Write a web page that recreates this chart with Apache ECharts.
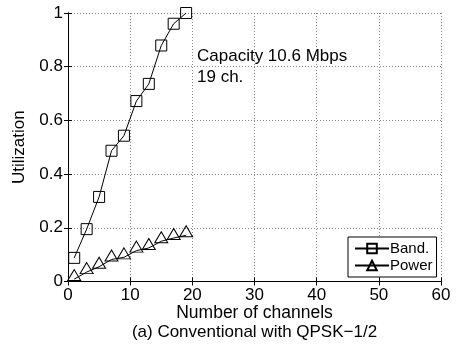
<!DOCTYPE html>
<html><head><meta charset="utf-8">
<script src="https://cdn.jsdelivr.net/npm/echarts@6/dist/echarts.min.js"></script>
<style>html,body{margin:0;padding:0;background:#fff}#c{width:463px;height:351px}</style>
</head><body><div id="c"></div>
<script>
const channels = [1, 3, 5, 7, 9, 11, 13, 15, 17, 19];
const bandUtil = [0.088, 0.195, 0.315, 0.487, 0.543, 0.672, 0.736, 0.879, 0.96, 1.0];
const powerUtil = [0.009, 0.035, 0.055, 0.082, 0.090, 0.115, 0.125, 0.150, 0.162, 0.172];
const xTicks = [0, 10, 20, 30, 40, 50, 60];
const yTicks = [0, 0.2, 0.4, 0.6, 0.8, 1];
const seriesNames = ['Band.', 'Power'];
const annotation = ['Capacity 10.6 Mbps', '19 ch.'];
const xLabel = 'Number of channels';
const yLabel = 'Utilization';
const caption = '(a) Conventional with QPSK\u22121/2';

const FONT = 'Liberation Sans';
const chart = echarts.init(document.getElementById('c'), null, {renderer: 'canvas'});
const gridLine = {show: true, lineStyle: {color: '#8a8a8a', type: [1, 2], width: 1}};
const baseAxis = {
  axisLine: {show: true, lineStyle: {color: '#000', width: 1}},
  axisTick: {show: true, inside: true, length: 4, lineStyle: {color: '#000'}},
  axisLabel: {color: '#000', fontFamily: FONT, fontSize: 17},
  splitLine: {show: false}
};
chart.setOption({
  animation: false,
  backgroundColor: '#fff',
  grid: {left: 68, right: 22, top: 13, bottom: 69.5, containLabel: false},
  legend: {
    orient: 'vertical', left: 348, top: 237, itemWidth: 34, itemHeight: 12, itemGap: 2,
    padding: [4, 4, 4, 6], borderColor: '#000', borderWidth: 1, backgroundColor: '#fff',
    textStyle: {fontFamily: FONT, fontSize: 15, color: '#000', padding: [0, 0, 0, -4]},
    data: seriesNames
  },
  xAxis: [
    Object.assign({}, baseAxis, {type: 'value', min: xTicks[0], max: xTicks[xTicks.length - 1], interval: 10,
      position: 'bottom', splitLine: gridLine,
      axisLabel: Object.assign({}, baseAxis.axisLabel, {margin: 5})}),
    Object.assign({}, baseAxis, {type: 'value', min: 0, max: 60, interval: 10, position: 'top',
      axisLabel: {show: false}})
  ],
  yAxis: [
    Object.assign({}, baseAxis, {type: 'value', min: yTicks[0], max: yTicks[yTicks.length - 1], interval: 0.2,
      position: 'left', splitLine: gridLine,
      axisLabel: Object.assign({}, baseAxis.axisLabel, {margin: 5}),
      name: yLabel, nameLocation: 'middle', nameGap: 40,
      nameTextStyle: {fontFamily: FONT, fontSize: 17, color: '#000'}}),
    Object.assign({}, baseAxis, {type: 'value', min: 0, max: 1, interval: 0.2, position: 'right',
      axisLabel: {show: false}})
  ],
  graphic: [
    {type: 'text', left: 197, top: 48, style: {text: annotation[0], font: '17px "Liberation Sans"', fill: '#000'}},
    {type: 'text', left: 197, top: 69, style: {text: annotation[1], font: '17px "Liberation Sans"', fill: '#000'}},
    {type: 'text', x: 254.5, y: 313, style: {text: xLabel, font: '17.5px "Liberation Sans"', fill: '#000',
      align: 'center', verticalAlign: 'middle'}},
    {type: 'text', x: 254.5, y: 332, style: {text: caption, font: '17px "Liberation Sans"', fill: '#000',
      align: 'center', verticalAlign: 'middle'}}
  ],
  series: [
    {name: seriesNames[0], type: 'line', data: channels.map((c, i) => [c, bandUtil[i]]),
      symbol: 'rect', symbolSize: 11, showAllSymbol: true,
      lineStyle: {color: '#000', width: 1},
      itemStyle: {color: 'rgba(255,255,255,0)', borderColor: '#000', borderWidth: 1}},
    {name: seriesNames[1], type: 'line', data: channels.map((c, i) => [c, powerUtil[i]]),
      symbol: 'triangle', symbolSize: [13, 11], symbolOffset: [0, -4], showAllSymbol: true,
      lineStyle: {color: '#000', width: 1},
      itemStyle: {color: 'rgba(255,255,255,0)', borderColor: '#000', borderWidth: 1}}
  ]
});
</script></body></html>
